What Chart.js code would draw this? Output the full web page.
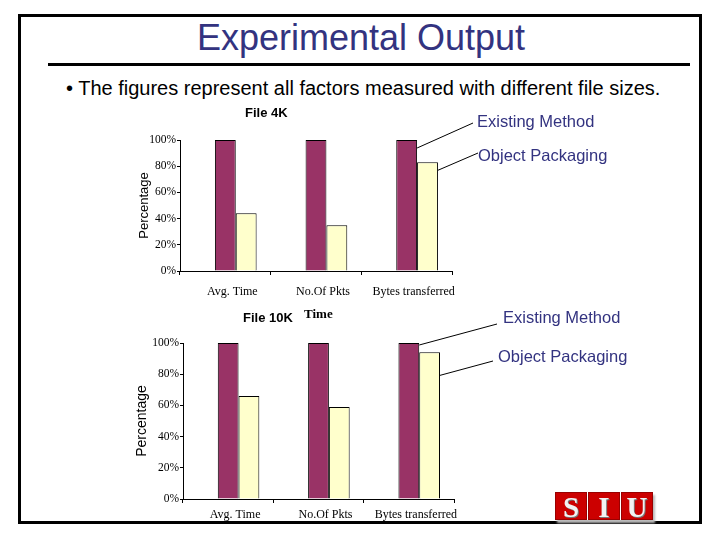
<!DOCTYPE html>
<html>
<head>
<meta charset="utf-8">
<script src="https://cdn.jsdelivr.net/npm/chart.js@4.4.1/dist/chart.umd.min.js"></script>
<style>
  html, body { margin: 0; padding: 0; background: #fff; }
  #slide { position: relative; width: 720px; height: 540px; overflow: hidden; font-family: "Liberation Sans", Arial, sans-serif; }
  .abs { position: absolute; white-space: nowrap; }
  #frame { left: 18px; top: 14px; width: 684px; height: 510px; border: 3px solid #000; box-sizing: border-box; }
  #title { left: 0; width: 722px; top: 16px; text-align: center; font-size: 36px; color: #333380; line-height: 44px; }
  #rule { left: 48px; top: 63px; width: 642px; height: 3px; background: #000; }
  #bullet { left: 66px; top: 76px; font-size: 20px; line-height: 24px; color: #000; }
  .ctitle { font-weight: bold; font-size: 13px; line-height: 16px; color: #000; }
  #time { left: 304px; top: 306px; font-family: "Liberation Serif", "Times New Roman", serif; font-weight: bold; font-size: 13px; line-height: 16px; }
  canvas { position: absolute; }
  #logo { left: 555px; top: 492px; width: 98px; height: 28px; display: flex; gap: 1px; box-shadow: 2px 3px 2px #bbb; }
  #logo span { flex: 1; background: #cc0000; border: 1px solid #990000; color: #f2f2f2; text-align: center;
    font-family: "Liberation Serif", "Times New Roman", serif; font-weight: bold; font-size: 29px; line-height: 28px;
    text-shadow: 1px 1px 0 #777; }
</style>
</head>
<body>
<div id="slide">
  <div id="frame" class="abs"></div>
  <div id="title" class="abs">Experimental Output</div>
  <div id="rule" class="abs"></div>
  <div id="bullet" class="abs">• The figures represent all factors measured with different file sizes.</div>

  <canvas id="chart4k" width="520" height="206" style="left:130px; top:100px; width:520px; height:206px;"></canvas>
  <canvas id="chart10k" width="520" height="229" style="left:130px; top:300px; width:520px; height:229px;"></canvas>

  <div class="abs ctitle" style="left:245px; top:105px;">File 4K</div>
  <div class="abs ctitle" style="left:243px; top:310px;">File 10K</div>
  <div id="time" class="abs">Time</div>

  <div id="logo" class="abs"><span>S</span><span>I</span><span>U</span></div>
</div>

<script>
const categories   = ['Avg. Time', 'No.Of Pkts', 'Bytes transferred'];
const seriesNames  = ['Existing Method', 'Object Packaging'];
const existing4k   = [100, 100, 100];
const packaging4k  = [44, 35, 83];
const existing10k  = [100, 100, 100];
const packaging10k = [66, 59, 94];

const MAROON = '#993366';
const CREAM  = '#ffffcc';
const NAVY   = '#333380';

// leader lines from the last pair of bars out to the series names
function calloutPlugin(items) {
  return {
    id: 'callouts',
    afterDatasetsDraw(chart) {
      const ctx = chart.ctx;
      ctx.save();
      items.forEach(c => {
        const bar = chart.getDatasetMeta(c.dataset).data[c.index];
        const sx = bar.x + bar.width / 2;
        const sy = bar.y + c.dy;
        ctx.strokeStyle = '#000';
        ctx.lineWidth = 1;
        ctx.beginPath();
        ctx.moveTo(sx, sy);
        ctx.lineTo(c.ex, c.ey);
        ctx.stroke();
        ctx.fillStyle = NAVY;
        ctx.font = '16.5px "Liberation Sans", Arial, sans-serif';
        ctx.textAlign = 'left';
        ctx.textBaseline = 'middle';
        ctx.fillText(c.text, c.tx, c.ty);
      });
      ctx.restore();
    }
  };
}

function makeChart(id, existing, packaging, cfg) {
  const ctx = document.getElementById(id).getContext('2d');
  return new Chart(ctx, {
    type: 'bar',
    data: {
      labels: categories,
      datasets: [
        // empty slot so the pair sits right of the category centre, as in the original
        { label: '', data: categories.map(() => null), backgroundColor: 'transparent' },
        { label: seriesNames[0], data: existing,  backgroundColor: MAROON, borderColor: '#000', borderWidth: 1 },
        { label: seriesNames[1], data: packaging, backgroundColor: CREAM,  borderColor: '#000', borderWidth: 1 }
      ]
    },
    options: {
      responsive: false,
      animation: false,
      events: [],
      barPercentage: 1,
      categoryPercentage: 0.69,
      layout: { padding: { top: cfg.padTop, right: cfg.padRight, left: 0, bottom: 0 } },
      plugins: {
        legend: { display: false },
        tooltip: { enabled: false }
      },
      scales: {
        x: {
          grid: { drawOnChartArea: false, tickLength: 4, color: '#000', offset: true },
          border: { color: '#000', width: 1 },
          ticks: {
            color: '#000', font: { family: '"Liberation Serif", "Times New Roman", serif', size: 12 },
            padding: cfg.xPad, labelOffset: 7, maxRotation: 0, autoSkip: false
          },
          afterFit: s => { s.height = cfg.xHeight; }
        },
        y: {
          min: 0, max: 100,
          grid: { drawOnChartArea: false, tickLength: 3, color: '#000' },
          border: { color: '#000', width: 1 },
          ticks: {
            stepSize: 20, padding: 1, color: '#000',
            font: { family: '"Liberation Serif", "Times New Roman", serif', size: 11.5 },
            callback: v => v + '%'
          },
          title: {
            display: true, text: 'Percentage', color: '#000',
            font: { family: '"Liberation Sans", Arial, sans-serif', size: cfg.titleSize },
            padding: { top: cfg.titlePad, bottom: 0 }
          },
          afterFit: s => { s.width = cfg.yWidth; }
        }
      }
    },
    plugins: [calloutPlugin(cfg.callouts)]
  });
}

makeChart('chart4k', existing4k, packaging4k, {
  padTop: 40, padRight: 198, xHeight: 35, xPad: 10, yWidth: 50, titleSize: 13, titlePad: 7,
  callouts: [
    { dataset: 1, index: 2, dy: 8,  ex: 343, ey: 23, tx: 347, ty: 22, text: seriesNames[0] },
    { dataset: 2, index: 2, dy: 8,  ex: 348, ey: 53, tx: 348, ty: 56, text: seriesNames[1] }
  ]
});

makeChart('chart10k', existing10k, packaging10k, {
  padTop: 43, padRight: 196, xHeight: 30, xPad: 5, yWidth: 53, titleSize: 14, titlePad: 4,
  callouts: [
    { dataset: 1, index: 2, dy: 2,  ex: 367, ey: 24, tx: 373, ty: 18, text: seriesNames[0] },
    { dataset: 2, index: 2, dy: 23, ex: 363, ey: 61, tx: 368, ty: 57, text: seriesNames[1] }
  ]
});
</script>
</body>
</html>
